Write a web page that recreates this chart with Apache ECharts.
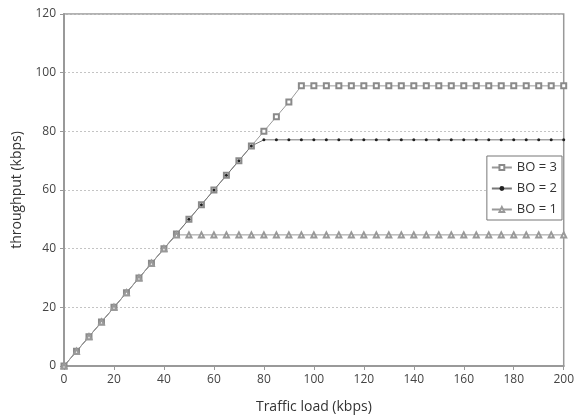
<!DOCTYPE html>
<html><head><meta charset="utf-8">
<script src="https://cdn.jsdelivr.net/npm/echarts@6/dist/echarts.min.js"></script>
<style>html,body{margin:0;padding:0;background:#fff}#c{width:577px;height:419px}</style>
</head><body><div id="c"></div>
<script>
const xLoad = [0,5,10,15,20,25,30,35,40,45,50,55,60,65,70,75,80,85,90,95,100,105,110,115,120,125,130,135,140,145,150,155,160,165,170,175,180,185,190,195,200];
const bo3 = [0,5,10,15,20,25,30,35,40,45,50,55,60,65,70,75,80,85,90,95.5,95.5,95.5,95.5,95.5,95.5,95.5,95.5,95.5,95.5,95.5,95.5,95.5,95.5,95.5,95.5,95.5,95.5,95.5,95.5,95.5,95.5];
const bo2 = [0,5,10,15,20,25,30,35,40,45,50,55,60,65,70,75,77.1,77.1,77.1,77.1,77.1,77.1,77.1,77.1,77.1,77.1,77.1,77.1,77.1,77.1,77.1,77.1,77.1,77.1,77.1,77.1,77.1,77.1,77.1,77.1,77.1];
const bo1 = [0,5,10,15,20,25,30,35,40,44.7,44.7,44.7,44.7,44.7,44.7,44.7,44.7,44.7,44.7,44.7,44.7,44.7,44.7,44.7,44.7,44.7,44.7,44.7,44.7,44.7,44.7,44.7,44.7,44.7,44.7,44.7,44.7,44.7,44.7,44.7,44.7];
const names = ['BO = 3','BO = 2','BO = 1'];
const pair = (ys) => xLoad.map((x,i)=>[x,ys[i]]);
const font = 'Open Sans';
const chart = echarts.init(document.getElementById('c'));
chart.setOption({
  animation:false,
  textStyle:{fontFamily:font},
  grid:{left:64,right:13,top:14,bottom:52,show:true,borderColor:'#999',borderWidth:1.5},
  legend:{
    data:names, orient:'vertical', right:15, top:156,
    backgroundColor:'#fff', borderColor:'#777', borderWidth:1, padding:[5,5,4,4],
    itemGap:8, itemWidth:20, itemHeight:6,
    textStyle:{fontFamily:font,fontSize:13,color:'#333'}
  },
  xAxis:{
    type:'value', min:0, max:200, interval:20,
    name:'Traffic load (kbps)', nameLocation:'middle', nameGap:34,
    nameTextStyle:{fontSize:14,color:'#333'},
    axisLine:{lineStyle:{color:'#999',width:2}},
    axisTick:{show:true,length:4,lineStyle:{color:'#999'}},
    axisLabel:{fontSize:12,color:'#444',margin:8},
    splitLine:{show:false}
  },
  yAxis:{
    type:'value', min:0, max:120, interval:20,
    name:'throughput (kbps)', nameLocation:'middle', nameGap:40,
    nameTextStyle:{fontSize:14,color:'#333'},
    axisLine:{show:true,lineStyle:{color:'#999',width:2}},
    axisTick:{show:true,length:4,lineStyle:{color:'#999'}},
    axisLabel:{fontSize:12,color:'#444',margin:8},
    splitLine:{show:true,lineStyle:{color:'#c4c4c4',type:[2,2],width:1}}
  },
  series:[
    {name:names[0],type:'line',data:pair(bo3),symbol:'emptyRect',symbolSize:5,
     lineStyle:{color:'#999',width:1},itemStyle:{color:'#8a8a8a',borderWidth:1}},
    {name:names[1],type:'line',data:pair(bo2),symbol:'circle',symbolSize:3,
     lineStyle:{color:'#777',width:1},itemStyle:{color:'#222'}},
    {name:names[2],type:'line',data:pair(bo1),symbol:'emptyTriangle',symbolSize:5,
     lineStyle:{color:'#999',width:1},itemStyle:{color:'#999',borderWidth:1}}
  ]
});
</script></body></html>
